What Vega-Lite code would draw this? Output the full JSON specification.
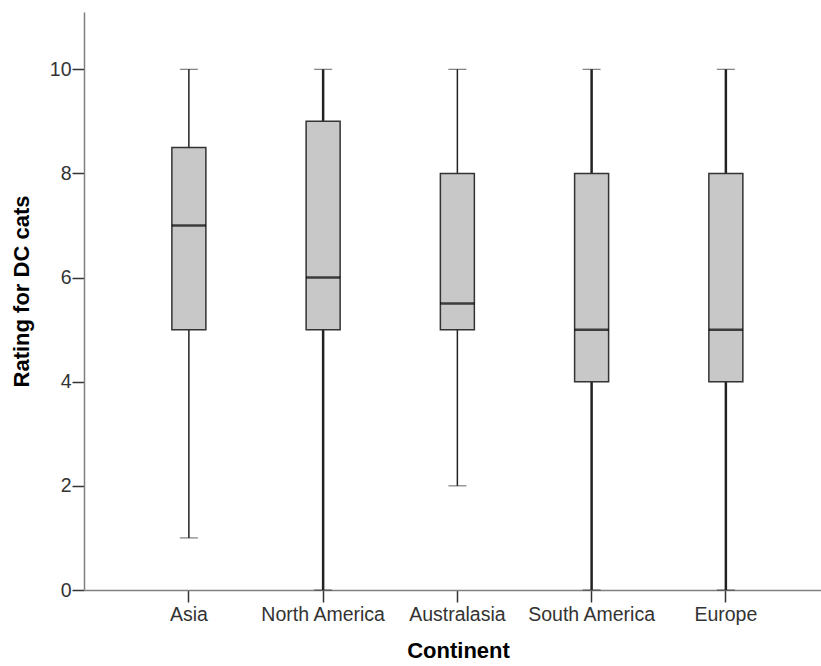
{
  "$schema": "https://vega.github.io/schema/vega-lite/v6.json",
  "autosize": "none",
  "width": 737,
  "height": 578,
  "padding": {"left": 84, "top": 12, "right": 0, "bottom": 76},
  "background": "white",
  "config": {
    "view": {"stroke": null},
    "font": "Liberation Sans",
    "axis": {
      "labelFont": "Liberation Sans",
      "titleFont": "Liberation Sans",
      "labelColor": "#333333",
      "titleColor": "#000000",
      "domainColor": "#808080",
      "domainWidth": 1.5,
      "tickColor": "#333333",
      "tickWidth": 1.5,
      "tickSize": 12,
      "grid": false,
      "labelFontSize": 19.5,
      "titleFontSize": 22,
      "titleFontWeight": "bold"
    }
  },
  "data": {
    "values": [
      {"continent": "Asia", "min": 1, "q1": 5, "median": 7, "q3": 8.5, "max": 10},
      {"continent": "North America", "min": 0, "q1": 5, "median": 6, "q3": 9, "max": 10},
      {"continent": "Australasia", "min": 2, "q1": 5, "median": 5.5, "q3": 8, "max": 10},
      {"continent": "South America", "min": 0, "q1": 4, "median": 5, "q3": 8, "max": 10},
      {"continent": "Europe", "min": 0, "q1": 4, "median": 5, "q3": 8, "max": 10}
    ]
  },
  "encoding": {
    "x": {
      "field": "continent",
      "type": "nominal",
      "sort": ["Asia", "North America", "Australasia", "South America", "Europe"],
      "title": "Continent",
      "scale": {"paddingInner": 0, "paddingOuter": 0.245, "align": 0.574},
      "axis": {"labelAngle": 0, "labelPadding": 3, "titlePadding": 17, "titleX": 374}
    }
  },
  "layer": [
    {
      "mark": {"type": "rule", "color": "#222222"},
      "encoding": {
        "y": {
          "field": "min",
          "type": "quantitative",
          "title": "Rating for DC cats",
          "scale": {"domain": [0, 11.1], "nice": false},
          "axis": {"values": [0, 2, 4, 6, 8, 10], "labelPadding": 1, "titlePadding": 16, "titleY": 279}
        },
        "y2": {"field": "q1"},
        "strokeWidth": {"condition": {"test": "datum.min == 0", "value": 2.5}, "value": 1.5}
      }
    },
    {
      "mark": {"type": "rule", "color": "#222222"},
      "encoding": {
        "y": {"field": "q3", "type": "quantitative"},
        "y2": {"field": "max"},
        "strokeWidth": {"condition": {"test": "datum.min == 0", "value": 2.5}, "value": 1.5}
      }
    },
    {
      "mark": {"type": "tick", "color": "#222222", "size": 18, "orient": "horizontal"},
      "encoding": {
        "y": {"field": "min", "type": "quantitative"},
        "strokeWidth": {"condition": {"test": "datum.min == 0", "value": 2.5}, "value": 2}
      }
    },
    {
      "mark": {"type": "tick", "color": "#222222", "size": 18, "orient": "horizontal"},
      "encoding": {
        "y": {"field": "max", "type": "quantitative"},
        "strokeWidth": {"condition": {"test": "datum.min == 0", "value": 2.5}, "value": 2}
      }
    },
    {
      "mark": {"type": "bar", "size": 34, "fill": "#c8c8c8", "stroke": "#333333", "strokeWidth": 1.5},
      "encoding": {
        "y": {"field": "q1", "type": "quantitative"},
        "y2": {"field": "q3"}
      }
    },
    {
      "mark": {"type": "tick", "color": "#000000", "size": 34, "thickness": 2.5, "orient": "horizontal"},
      "encoding": {
        "y": {"field": "median", "type": "quantitative"}
      }
    }
  ]
}
